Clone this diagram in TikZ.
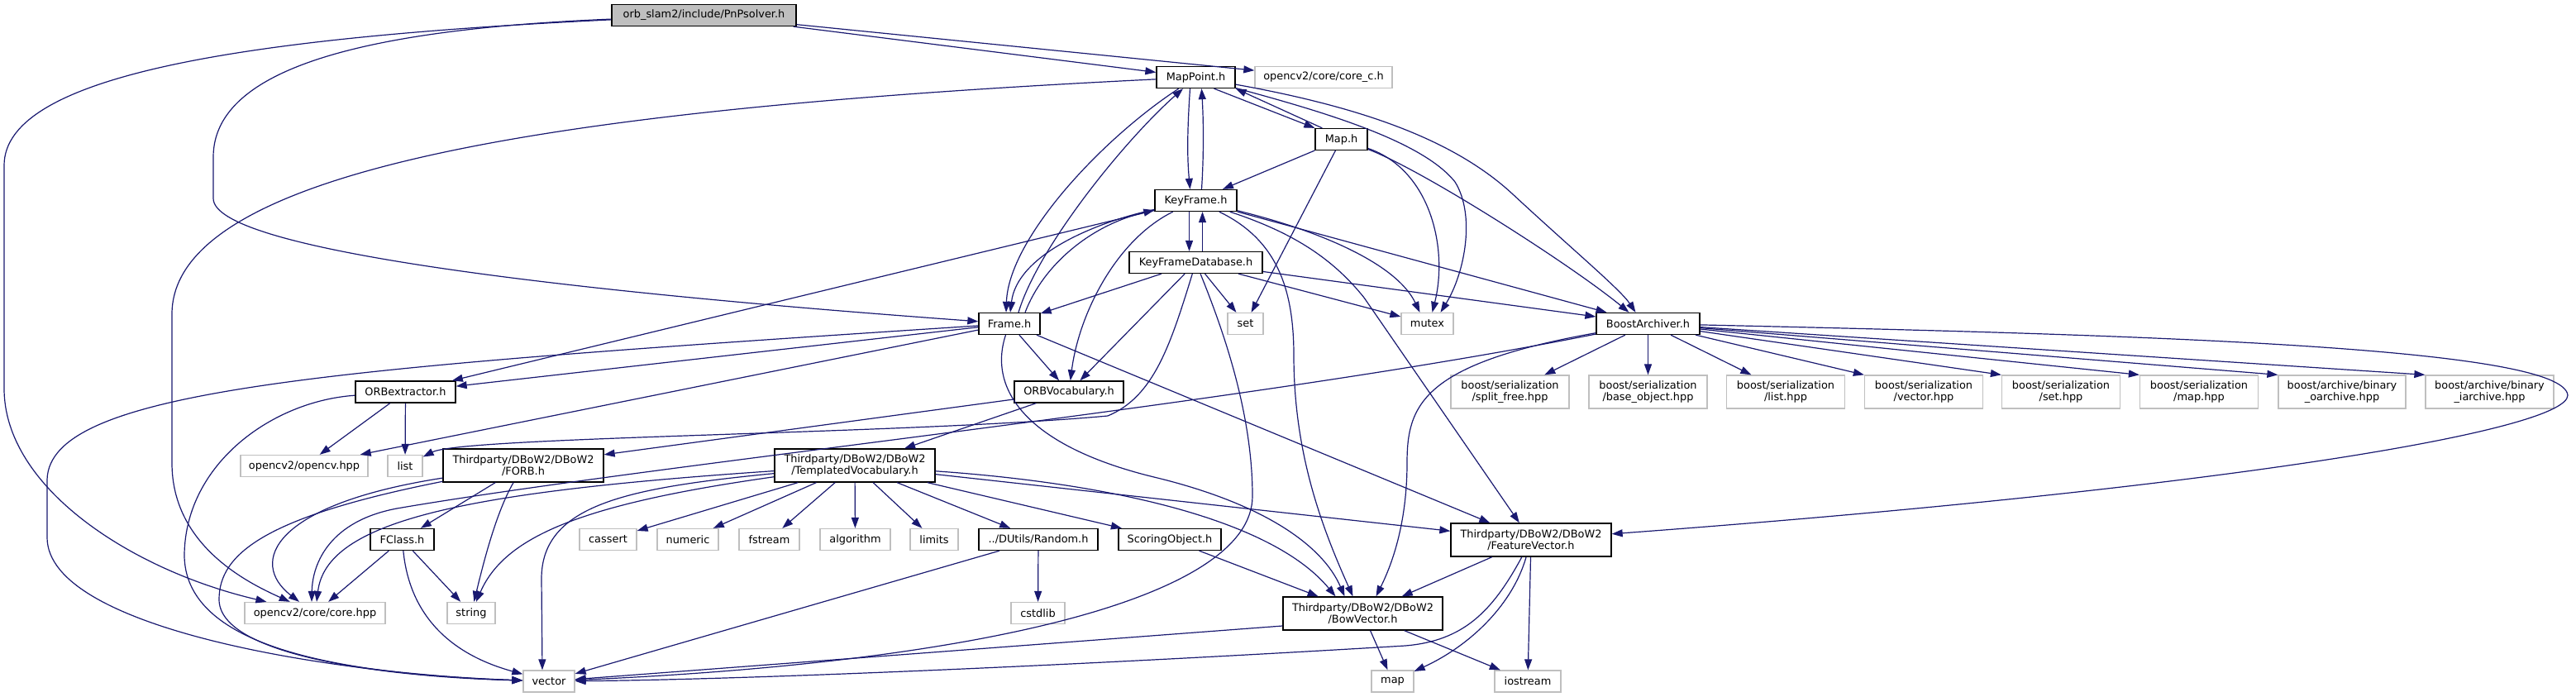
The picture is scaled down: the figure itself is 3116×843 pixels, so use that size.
\documentclass[tikz,border=0pt]{standalone}
\usepackage{fontspec}
\setmainfont{DejaVu Sans}
\usetikzlibrary{arrows.meta}
\definecolor{edgeblue}{HTML}{191970}
\definecolor{sysgray}{HTML}{BFBFBF}
\tikzset{
 hdr/.style={draw=black,line width=1.3pt,fill=white,inner sep=0pt,minimum height=26pt,font={\fontsize{12.9pt}{14pt}\selectfont}},
 syshdr/.style={hdr,draw=sysgray},
 rootfile/.style={hdr,fill=sysgray},
 tall/.style={minimum height=40pt,align=center},
 incl/.style={draw=edgeblue,line width=1.2pt,-{Triangle[length=13pt,width=9pt]}}
}
\begin{document}
\begin{tikzpicture}[x=1pt,y=-1pt]
\path[use as bounding box] (0,0) rectangle (3116,843);
\node[rootfile,minimum width=223pt] (pnp) at (851.5,18.5) {orb\_slam2/include/PnPsolver.h};
\node[hdr,minimum width=95pt] (mappoint) at (1446.5,93.5) {MapPoint.h};
\node[syshdr,minimum width=166pt] (corec) at (1601,93.5) {opencv2/core/core\_c.h};
\node[hdr,minimum width=63pt] (map) at (1622.5,168.5) {Map.h};
\node[hdr,minimum width=99pt] (keyframe) at (1446.5,242.5) {KeyFrame.h};
\node[hdr,minimum width=161pt] (kfdb) at (1446.5,317.5) {KeyFrameDatabase.h};
\node[hdr,minimum width=74pt] (frame) at (1221,391.5) {Frame.h};
\node[syshdr,minimum width=43pt] (set) at (1506.5,391.5) {set};
\node[syshdr,minimum width=63pt] (mutex) at (1726.5,391.5) {mutex};
\node[hdr,minimum width=125pt] (boost) at (1993.5,391.5) {BoostArchiver.h};
\node[hdr,minimum width=121pt] (orbext) at (490.5,474) {ORBextractor.h};
\node[hdr,minimum width=132pt] (orbvoc) at (1293,474) {ORBVocabulary.h};
\node[syshdr,tall,minimum width=143pt] (splitfree) at (1826.5,474) {boost/serialization\\/split\_free.hpp};
\node[syshdr,tall,minimum width=143pt] (baseobj) at (1993.5,474) {boost/serialization\\/base\_object.hpp};
\node[syshdr,tall,minimum width=143pt] (listhpp) at (2160,474) {boost/serialization\\/list.hpp};
\node[syshdr,tall,minimum width=143pt] (vectorhpp) at (2327,474) {boost/serialization\\/vector.hpp};
\node[syshdr,tall,minimum width=143pt] (sethpp) at (2493,474) {boost/serialization\\/set.hpp};
\node[syshdr,tall,minimum width=143pt] (maphpp) at (2660,474) {boost/serialization\\/map.hpp};
\node[syshdr,tall,minimum width=154pt] (oarch) at (2833,474) {boost/archive/binary\\\_oarchive.hpp};
\node[syshdr,tall,minimum width=155pt] (iarch) at (3011.5,474) {boost/archive/binary\\\_iarchive.hpp};
\node[syshdr,minimum width=154pt] (opencvhpp) at (368,563.5) {opencv2/opencv.hpp};
\node[syshdr,minimum width=42pt] (list) at (490,563.5) {list};
\node[hdr,tall,minimum width=194pt] (forb) at (633,563) {Thirdparty/DBoW2/DBoW2\\/FORB.h};
\node[hdr,tall,minimum width=194pt] (templ) at (1034,563) {Thirdparty/DBoW2/DBoW2\\/TemplatedVocabulary.h};
\node[hdr,minimum width=77pt] (fclass) at (486.5,652.5) {FClass.h};
\node[syshdr,minimum width=69pt] (cassert) at (735.5,652.5) {cassert};
\node[syshdr,minimum width=74pt] (numeric) at (832,652.5) {numeric};
\node[syshdr,minimum width=73pt] (fstream) at (930.5,652.5) {fstream};
\node[syshdr,minimum width=85pt] (algorithm) at (1034.5,652.5) {algorithm};
\node[syshdr,minimum width=58pt] (limits) at (1130,652.5) {limits};
\node[hdr,minimum width=144pt] (random) at (1256,652.5) {../DUtils/Random.h};
\node[hdr,minimum width=124pt] (scoring) at (1415,652.5) {ScoringObject.h};
\node[hdr,tall,minimum width=194pt] (featvec) at (1852,653) {Thirdparty/DBoW2/DBoW2\\/FeatureVector.h};
\node[syshdr,minimum width=170pt] (corehpp) at (381,741.5) {opencv2/core/core.hpp};
\node[syshdr,minimum width=58pt] (string) at (570,741.5) {string};
\node[syshdr,minimum width=65pt] (cstdlib) at (1255.5,741.5) {cstdlib};
\node[hdr,tall,minimum width=193pt] (bowvec) at (1648.5,742) {Thirdparty/DBoW2/DBoW2\\/BowVector.h};
\node[syshdr,minimum width=62pt] (vector) at (664,824) {vector};
\node[syshdr,minimum width=51pt] (stdmap) at (1684.5,824) {map};
\node[syshdr,minimum width=80pt] (iostream) at (1848,824) {iostream};
\draw[incl] (pnp) -- (mappoint);
\draw[incl] (pnp) -- (corec);
\draw[incl] (pnp) .. controls (450,35) and (258,80) .. (258,190) -- (258,240) .. controls (258,300) and (650,350) .. (frame);
\draw[incl] (pnp) .. controls (300,45) and (5,90) .. (5,200) -- (5,470) .. controls (5,590) and (160,690) .. (corehpp);
\draw[incl] (mappoint) .. controls (700,130) and (208,200) .. (208,380) -- (208,560) .. controls (208,660) and (300,705) .. (corehpp);
\draw[incl] ([xshift=-7pt]mappoint.south) .. controls (1436,160) and (1436,190) .. ([xshift=-7pt]keyframe.north);
\draw[incl] ([xshift=7pt]keyframe.north) .. controls (1456,190) and (1456,150) .. ([xshift=7pt]mappoint.south);
\draw[incl] (mappoint) .. controls (1330,170) and (1220,290) .. ([xshift=-4pt]frame.north);
\draw[incl] ([xshift=11pt]frame.north) .. controls (1255,300) and (1360,170) .. (mappoint);
\draw[incl] ([xshift=22pt]mappoint.south) -- (map.north west);
\draw[incl] ([xshift=9pt]map.north west) -- (mappoint.south east);
\draw[incl] (mappoint) .. controls (1600,135) and (1720,170) .. (1760,220) .. controls (1785,260) and (1772,330) .. ([xshift=16pt]mutex.north);
\draw[incl] (mappoint) .. controls (1650,130) and (1760,170) .. (1830,235) .. controls (1900,300) and (1960,350) .. ([xshift=-15pt]boost.north);
\draw[incl] (map) -- (keyframe);
\draw[incl] (map) -- (set);
\draw[incl] (map) .. controls (1730,205) and (1752,300) .. ([xshift=6pt]mutex.north);
\draw[incl] (map) .. controls (1720,205) and (1900,320) .. ([xshift=-23pt]boost.north);
\draw[incl] ([xshift=-8pt]keyframe.south) -- ([xshift=-8pt]kfdb.north);
\draw[incl] ([xshift=8pt]kfdb.north) -- ([xshift=8pt]keyframe.south);
\draw[incl] (keyframe) .. controls (1320,270) and (1230,310) .. ([xshift=1pt]frame.north);
\draw[incl] ([xshift=19pt]frame.north) .. controls (1262,320) and (1320,272) .. (keyframe);
\draw[incl] (keyframe) -- (orbext);
\draw[incl] (keyframe) .. controls (1350,290) and (1305,380) .. (orbvoc);
\draw[incl] (keyframe) .. controls (1600,280) and (1690,320) .. ([xshift=-9pt]mutex.north);
\draw[incl] (keyframe) -- (boost);
\draw[incl] (keyframe) .. controls (1545,290) and (1565,350) .. (1565,430) .. controls (1565,550) and (1600,640) .. ([xshift=-12pt]bowvec.north);
\draw[incl] (keyframe) .. controls (1560,280) and (1610,310) .. (1650,360) -- (featvec);
\draw[incl] (kfdb) -- (frame);
\draw[incl] (kfdb) -- (set);
\draw[incl] (kfdb) -- (mutex);
\draw[incl] (kfdb) -- (boost);
\draw[incl] (kfdb) -- (orbvoc);
\draw[incl] (kfdb) .. controls (1415,420) and (1395,480) .. (1340,503) .. controls (1100,525) and (560,528) .. (list);
\draw[incl] (kfdb) .. controls (1480,400) and (1515,500) .. (1515,600) .. controls (1515,720) and (1200,800) .. (vector);
\draw[incl] (frame) .. controls (400,445) and (60,470) .. (57,580) -- (57,650) .. controls (57,760) and (400,815) .. (vector);
\draw[incl] (frame) -- (orbext);
\draw[incl] (frame) -- (opencvhpp);
\draw[incl] (frame) -- (orbvoc);
\draw[incl] (frame) .. controls (1195,470) and (1240,540) .. (1400,578) .. controls (1530,610) and (1600,660) .. ([xshift=-22pt]bowvec.north);
\draw[incl] (frame) -- (featvec);
\draw[incl] (boost) -- (splitfree);
\draw[incl] (boost) -- (baseobj);
\draw[incl] (boost) -- (listhpp);
\draw[incl] (boost) -- (vectorhpp.north west);
\draw[incl] (boost) -- (sethpp.north west);
\draw[incl] (boost) -- (maphpp.north west);
\draw[incl] (boost) -- (oarch.north west);
\draw[incl] (boost) -- (iarch.north west);
\draw[incl] (boost) .. controls (2600,405) and (3100,420) .. (3106,478) .. controls (3106,520) and (2700,590) .. (featvec);
\draw[incl] (boost) .. controls (1500,490) and (800,560) .. (480,615) .. controls (400,630) and (378,680) .. ([xshift=-4pt]corehpp.north);
\draw[incl] (boost) .. controls (1720,440) and (1702,490) .. (1702,560) .. controls (1702,640) and (1680,690) .. ([xshift=16pt]bowvec.north);
\draw[incl] (orbext) -- (opencvhpp);
\draw[incl] (orbext) -- (list);
\draw[incl] (orbext) .. controls (330,485) and (225,560) .. (223,670) .. controls (222,780) and (400,815) .. (vector);
\draw[incl] (orbvoc) -- (forb);
\draw[incl] (orbvoc) -- (templ);
\draw[incl] (forb) -- (fclass);
\draw[incl] (forb) .. controls (600,620) and (585,680) .. (string);
\draw[incl] (forb) .. controls (330,610) and (300,680) .. ([xshift=-19pt]corehpp.north);
\draw[incl] (forb) .. controls (320,625) and (265,670) .. (265,725) .. controls (265,790) and (450,818) .. (vector);
\draw[incl] (templ) -- (cassert);
\draw[incl] (templ) -- (numeric);
\draw[incl] (templ) -- (fstream);
\draw[incl] (templ) -- (algorithm);
\draw[incl] (templ) -- (limits);
\draw[incl] (templ) -- (random);
\draw[incl] (templ) -- (scoring);
\draw[incl] (templ) .. controls (700,610) and (610,650) .. (string);
\draw[incl] (templ) .. controls (760,590) and (655,610) .. (655,700) -- ([xshift=-8pt]vector.north);
\draw[incl] (templ) .. controls (560,595) and (395,630) .. ([xshift=2pt]corehpp.north);
\draw[incl] (templ) -- (featvec);
\draw[incl] (templ) .. controls (1350,585) and (1540,630) .. ([xshift=-33pt]bowvec.north);
\draw[incl] (fclass) -- (corehpp);
\draw[incl] (fclass) -- (string);
\draw[incl] (fclass) .. controls (495,740) and (540,790) .. (vector);
\draw[incl] (random) -- (cstdlib);
\draw[incl] (random) -- (vector);
\draw[incl] (scoring) -- (bowvec);
\draw[incl] (featvec) -- (bowvec);
\draw[incl] (featvec) .. controls (1830,730) and (1780,780) .. (stdmap);
\draw[incl] (featvec) -- (iostream);
\draw[incl] (featvec) .. controls (1805,740) and (1770,775) .. (1700,781) .. controls (1300,805) and (900,822) .. (vector);
\draw[incl] (bowvec) -- (stdmap);
\draw[incl] (bowvec) -- (iostream);
\draw[incl] ([yshift=-15pt]bowvec.west) -- (vector);
\end{tikzpicture}
\end{document}
